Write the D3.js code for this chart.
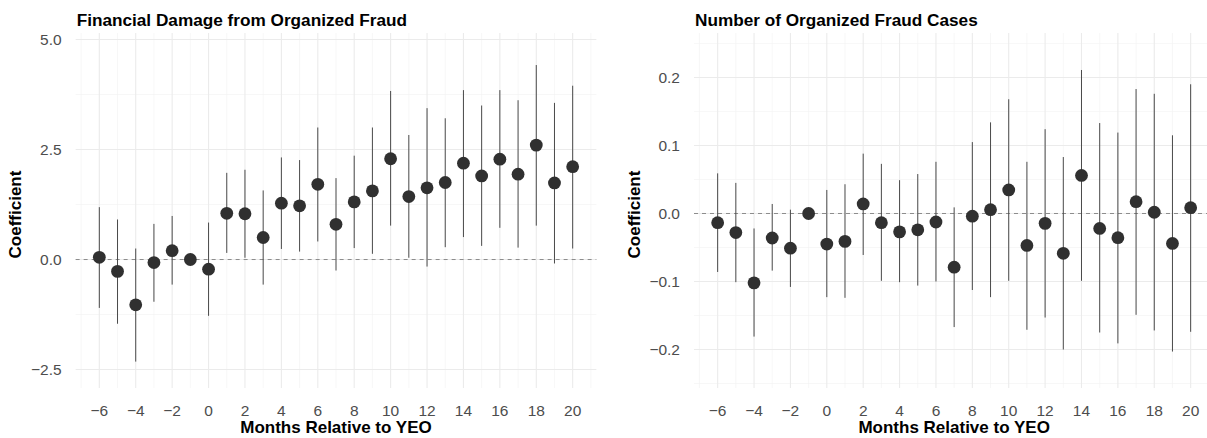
<!DOCTYPE html>
<html>
<head>
<meta charset="utf-8">
<script src="https://cdn.jsdelivr.net/npm/d3@7"></script>
<style>
  html, body { margin: 0; padding: 0; background: #ffffff; }
  svg { display: block; font-family: "Liberation Sans", Arial, sans-serif; }
</style>
</head>
<body>
<svg id="chart" width="1207" height="438"></svg>
<script>
// Event-study coefficients by month relative to YEO (month -1 is the reference period)
const months = [-6, -5, -4, -3, -2, -1, 0, 1, 2, 3, 4, 5, 6, 7, 8, 9, 10, 11, 12, 13, 14, 15, 16, 17, 18, 19, 20];

// Financial damage from organized fraud
const damageEst  = [0.05, -0.27, -1.03, -0.07, 0.20, 0.00, -0.22, 1.05, 1.04, 0.50, 1.28, 1.22, 1.71, 0.80, 1.31, 1.56, 2.29, 1.43, 1.63, 1.75, 2.19, 1.90, 2.28, 1.94, 2.60, 1.74, 2.11];
const damageHigh = [1.19, 0.91, 0.25, 0.81, 0.99, null, 0.84, 1.97, 2.04, 1.57, 2.32, 2.26, 3.00, 1.85, 2.36, 3.00, 3.83, 2.83, 3.44, 3.21, 3.85, 3.50, 3.85, 3.62, 4.42, 3.56, 3.95];
const damageLow  = [-1.10, -1.46, -2.32, -0.96, -0.57, null, -1.28, 0.15, 0.04, -0.57, 0.24, 0.18, 0.41, -0.25, 0.26, 0.13, 0.77, 0.04, -0.16, 0.28, 0.51, 0.31, 0.72, 0.27, 0.77, -0.09, 0.25];

// Number of organized fraud cases
const casesEst  = [-0.0135, -0.028, -0.102, -0.036, -0.051, 0.000, -0.045, -0.041, 0.014, -0.0135, -0.027, -0.024, -0.0125, -0.079, -0.004, 0.0056, 0.0346, -0.047, -0.0145, -0.0586, 0.056, -0.022, -0.0356, 0.0174, 0.0018, -0.044, 0.0085];
const casesHigh = [0.059, 0.045, -0.022, 0.014, 0.0056, null, 0.0346, 0.043, 0.088, 0.073, 0.049, 0.058, 0.076, 0.009, 0.105, 0.134, 0.168, 0.076, 0.124, 0.083, 0.211, 0.133, 0.119, 0.183, 0.176, 0.115, 0.190];
const casesLow  = [-0.086, -0.101, -0.181, -0.084, -0.108, null, -0.123, -0.124, -0.061, -0.099, -0.101, -0.106, -0.100, -0.167, -0.1125, -0.123, -0.099, -0.171, -0.153, -0.200, -0.099, -0.175, -0.191, -0.149, -0.172, -0.203, -0.174];

const xTicks = [-6, -4, -2, 0, 2, 4, 6, 8, 10, 12, 14, 16, 18, 20];
const damageTicks = [-2.5, 0, 2.5, 5];
const casesTicks = [-0.2, -0.1, 0, 0.1, 0.2];

const svg = d3.select("#chart");

function panel(opts) {
  const { left, right, top, bottom, yDomain, title, est, high, low, yTicks, yFmt } = opts;
  const g = svg.append("g");

  const x = d3.scaleLinear().domain([-7.3, 21.3]).range([left, right]);
  const y = d3.scaleLinear().domain(yDomain).range([bottom, top]);

  // minor + major grid
  const minorX = d3.range(-7, 22, 2);
  const majorY = yTicks;
  const minorY = [];
  for (let i = 0; i < majorY.length - 1; i++) minorY.push((majorY[i] + majorY[i + 1]) / 2);
  const stepY = majorY[1] - majorY[0];
  if (majorY[0] - stepY / 2 >= yDomain[0]) minorY.push(majorY[0] - stepY / 2);
  const lastY = majorY[majorY.length - 1];
  if (lastY + stepY / 2 <= yDomain[1]) minorY.push(lastY + stepY / 2);

  const grid = g.append("g");
  grid.selectAll(".minx").data(minorX).join("line")
    .attr("x1", d => x(d)).attr("x2", d => x(d))
    .attr("y1", top).attr("y2", bottom)
    .attr("stroke", "#f1f1f1").attr("stroke-width", 0.6);
  grid.selectAll(".miny").data(minorY).join("line")
    .attr("x1", left).attr("x2", right)
    .attr("y1", d => y(d)).attr("y2", d => y(d))
    .attr("stroke", "#f1f1f1").attr("stroke-width", 0.6);
  grid.selectAll(".majx").data(xTicks).join("line")
    .attr("x1", d => x(d)).attr("x2", d => x(d))
    .attr("y1", top).attr("y2", bottom)
    .attr("stroke", "#ebebeb").attr("stroke-width", 1.1);
  grid.selectAll(".majy").data(majorY).join("line")
    .attr("x1", left).attr("x2", right)
    .attr("y1", d => y(d)).attr("y2", d => y(d))
    .attr("stroke", "#ebebeb").attr("stroke-width", 1.1);

  // zero reference
  g.append("line")
    .attr("x1", left).attr("x2", right)
    .attr("y1", y(0)).attr("y2", y(0))
    .attr("stroke", "#8c8c8c").attr("stroke-width", 1)
    .attr("stroke-dasharray", "4,4");

  const rows = months.map((m, i) => ({ m, est: est[i], hi: high[i], lo: low[i] }));

  // confidence intervals
  g.selectAll(".ci").data(rows.filter(r => r.hi !== null)).join("line")
    .attr("x1", d => x(d.m)).attr("x2", d => x(d.m))
    .attr("y1", d => y(d.lo)).attr("y2", d => y(d.hi))
    .attr("stroke", "#4a4a4a").attr("stroke-width", 1);

  // point estimates
  g.selectAll(".pt").data(rows).join("circle")
    .attr("cx", d => x(d.m)).attr("cy", d => y(d.est))
    .attr("r", 6.4).attr("fill", "#303030");

  // y tick labels
  g.selectAll(".ylab").data(yTicks).join("text")
    .attr("x", left - 14).attr("y", d => y(d))
    .attr("dy", "0.36em")
    .attr("text-anchor", "end")
    .attr("font-size", 15.5).attr("fill", "#4d4d4d")
    .text(d => yFmt(d));

  // x tick labels
  g.selectAll(".xlab").data(xTicks).join("text")
    .attr("x", d => x(d)).attr("y", 416)
    .attr("text-anchor", "middle")
    .attr("font-size", 15.5).attr("fill", "#4d4d4d")
    .text(d => d3.format("d")(d));

  // axis titles
  g.append("text")
    .attr("x", (left + right) / 2).attr("y", 432.5)
    .attr("text-anchor", "middle")
    .attr("font-size", 17).attr("font-weight", "bold").attr("fill", "#000")
    .text("Months Relative to YEO");

  g.append("text")
    .attr("transform", `translate(${left - 54.5},${(top + bottom) / 2 + 4}) rotate(-90)`)
    .attr("text-anchor", "middle")
    .attr("font-size", 17).attr("font-weight", "bold").attr("fill", "#000")
    .text("Coefficient");

  // panel title
  g.append("text")
    .attr("x", left + 1).attr("y", 25.5)
    .attr("font-size", 17.2).attr("font-weight", "bold").attr("fill", "#000")
    .text(title);
}

panel({
  left: 75.65, right: 596.35, top: 33, bottom: 388,
  yDomain: [-2.92, 5.148],
  title: "Financial Damage from Organized Fraud",
  est: damageEst, high: damageHigh, low: damageLow,
  yTicks: damageTicks, yFmt: d3.format(".1f")
});

panel({
  left: 694, right: 1214.3, top: 33, bottom: 388,
  yDomain: [-0.2566, 0.2654],
  title: "Number of Organized Fraud Cases",
  est: casesEst, high: casesHigh, low: casesLow,
  yTicks: casesTicks, yFmt: d3.format(".1f")
});
</script>
</body>
</html>
